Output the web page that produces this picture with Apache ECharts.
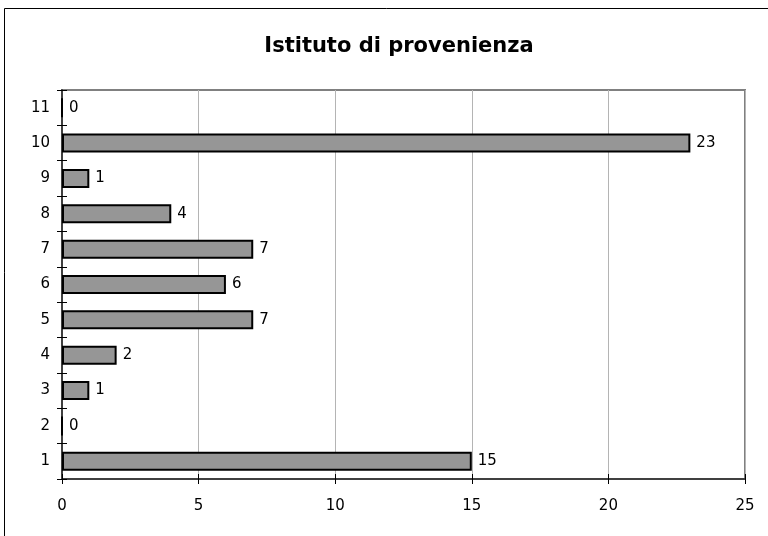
<!DOCTYPE html>
<html><head><meta charset="utf-8">
<script src="https://cdn.jsdelivr.net/npm/echarts@6/dist/echarts.min.js"></script>
<style>html,body{margin:0;padding:0;background:#fff}#c{width:768px;height:536px}</style>
</head><body><div id="c"></div>
<script>
var categories = ['1','2','3','4','5','6','7','8','9','10','11'];
var values = [15,0,1,2,7,6,7,4,1,23,0];
var titleText = 'Istituto di provenienza';
var xTicks = [0,5,10,15,20,25];

var chart = echarts.init(document.getElementById('c'), null, {renderer:'canvas'});
var font = 'DejaVu Sans, Verdana, sans-serif';
var yBase = {
  type:'category', data:categories, gridIndex:0,
  axisLine:{show:true, lineStyle:{color:'#404040', width:2}},
  axisTick:{show:true, length:5, lineStyle:{color:'#000', width:1}},
  splitLine:{show:false}
};
var xBase = {
  type:'value', min:xTicks[0], max:xTicks[xTicks.length-1], interval:5, gridIndex:0,
  axisTick:{show:true, length:5, lineStyle:{color:'#000', width:1}}
};
chart.setOption({
  animation:false,
  backgroundColor:'#fff',
  title:{text:titleText, left:394, top:31, textAlign:'center',
    textStyle:{fontFamily:font, fontSize:21, fontWeight:'bold', color:'#000'}},
  graphic:[{type:'rect', shape:{x:4.5, y:8.5, width:800, height:600},
    style:{fill:'none', stroke:'#000', lineWidth:1}, silent:true}],
  grid:{left:62, right:23, top:90, bottom:57, show:true, borderColor:'#808080', borderWidth:2, backgroundColor:'#fff'},
  xAxis:[
    Object.assign({}, xBase, {
      axisLine:{show:true, lineStyle:{color:'#404040', width:2}},
      axisLabel:{show:true, color:'#000', fontFamily:font, fontSize:15, margin:20},
      splitLine:{show:true, lineStyle:{color:'#b4b4b4', width:1}}
    }),
    Object.assign({}, xBase, {position:'bottom',
      axisLine:{show:false}, axisLabel:{show:false}, splitLine:{show:false},
      axisTick:{show:true, inside:true, length:5, lineStyle:{color:'#000', width:1}}
    })
  ],
  yAxis:[
    Object.assign({}, yBase, {
      axisLabel:{show:true, color:'#000', fontFamily:font, fontSize:15, margin:12}
    }),
    Object.assign({}, yBase, {position:'left',
      axisLine:{show:false}, axisLabel:{show:false},
      axisTick:{show:true, inside:true, length:5, lineStyle:{color:'#000', width:1}}
    })
  ],
  series:[{
    type:'bar', data:values, xAxisIndex:0, yAxisIndex:0, barWidth:19,
    itemStyle:{color:'#969696', borderColor:'#000', borderWidth:2},
    label:{show:true, position:'right', distance:6, color:'#000', fontFamily:font, fontSize:15}
  }]
});
</script></body></html>
